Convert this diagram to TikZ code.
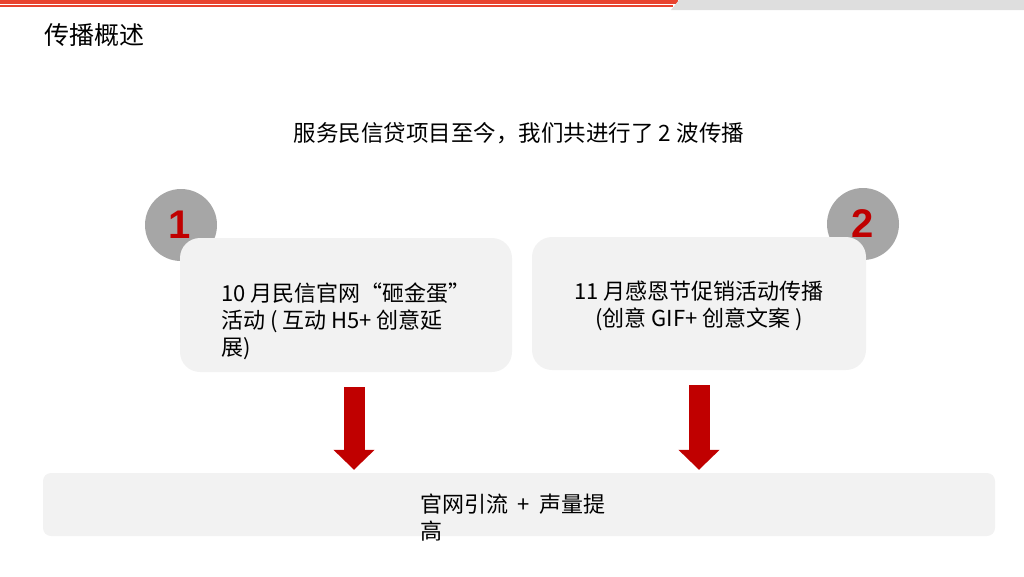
\documentclass[tikz,border=0pt]{standalone}
\usepackage{fontspec}
\setmainfont{Noto Sans CJK SC}
\newfontfamily\numfont{Liberation Sans}
\usetikzlibrary{arrows.meta, positioning}

\definecolor{cardgray}{HTML}{F2F2F2}
\definecolor{badgegray}{HTML}{A6A6A6}
\definecolor{darkred}{HTML}{C00000}
\definecolor{barred}{HTML}{E8432F}
\definecolor{bargray}{HTML}{DEDEDE}

\begin{document}
\begin{tikzpicture}[
    x=1pt, y=-1pt,
    card/.style={fill=cardgray, rounded corners=20pt, inner sep=0pt},
    badge/.style={circle, fill=badgegray, minimum size=72pt, inner sep=0pt,
        text=darkred, font=\numfont\bfseries\fontsize{40}{40}\selectfont},
    txt/.style={inner sep=0pt, font=\fontsize{22}{27}\selectfont},
    bigarrow/.style={draw=darkred, line width=21pt,
        -{Triangle[length=20pt, width=40pt]}, shorten <=15pt, shorten >=3pt}
]
    \useasboundingbox (0,0) rectangle (1024,576);

    % header bar
    \fill[barred] (0,0) rectangle (678,3.5);
    \fill[barred] (0,5) rectangle (673,6.5);
    \fill[bargray] (679,0) -- (1024,0) -- (1024,10) -- (671,10) -- cycle;

    \node[anchor=west, inner sep=0pt, font=\fontsize{25}{25}\selectfont] (title) at (44,35) {传播概述};
    \node[txt, font=\fontsize{22.5}{27}\selectfont] (intro) at (519,133) {服务民信贷项目至今，我们共进行了 2 波传播};

    % two waves
    \node[badge] (badge1) at (181,225) {\kern-3pt 1};
    \node[badge] (badge2) at (863,224) {2};
    \node[card, minimum width=332pt, minimum height=134pt] (box1) at (346,305) {};
    \node[card, minimum width=334pt, minimum height=133pt] (box2) at (699,303.5) {};
    \node[txt, align=left] (text1) at ([yshift=-16pt]box1.center)
        {10 月民信官网“砸金蛋”\\活动 ( 互动 H5+ 创意延\\展)};
    \node[txt, align=center] (text2) at ([yshift=-2.5pt]box2.center)
        {11 月感恩节促销活动传播\\(创意 GIF+ 创意文案 )};

    % result
    \node[card, rounded corners=8pt, minimum width=952pt, minimum height=63pt] (result) at (519,504.5) {};
    \node[txt, align=left, anchor=north west] (resulttext) at ([xshift=377pt, yshift=-21pt]result.north west)
        {官网引流\hspace{0.45em}+\hspace{0.45em}声量提\\高};

    \draw[bigarrow] ([xshift=8pt]box1.south) -- ([xshift=8pt]box1.south |- result.north);
    \draw[bigarrow] (box2.south) -- (box2.south |- result.north);
\end{tikzpicture}
\end{document}
